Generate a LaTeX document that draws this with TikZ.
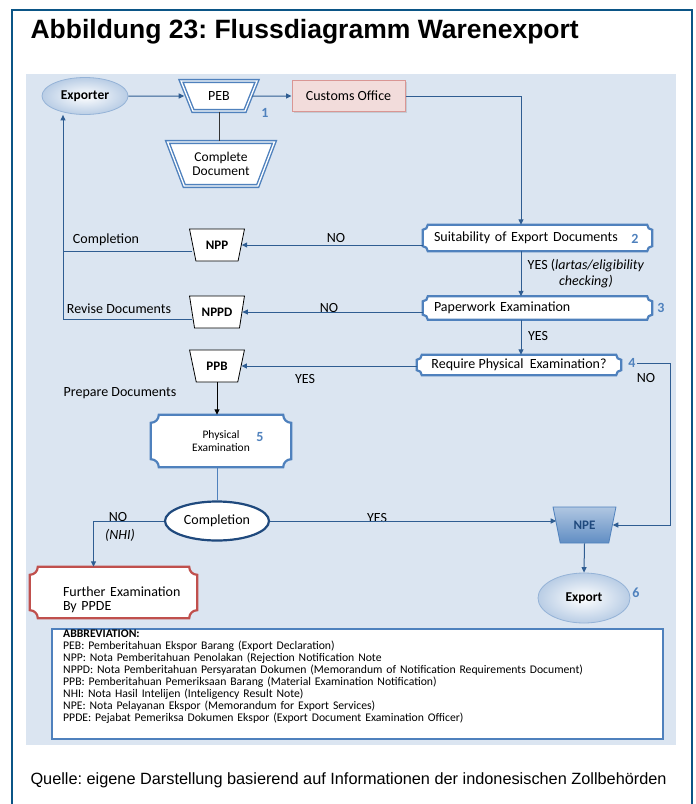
\documentclass[tikz,border=0pt]{standalone}
\usepackage{fontspec}
\setmainfont{Carlito}
\newfontfamily\arialfont{Liberation Sans}
\usetikzlibrary{shapes.geometric,arrows.meta,backgrounds,shadows}
\frenchspacing

\definecolor{frameblue}{HTML}{0B5586}
\definecolor{bgblue}{HTML}{DBE5F1}
\definecolor{lineblue}{HTML}{2F5D92}
\definecolor{accent}{HTML}{4F81BD}
\definecolor{pinkfill}{HTML}{F2DCDB}
\definecolor{pinkline}{HTML}{D99694}
\definecolor{redline}{HTML}{C0504D}
\definecolor{navy}{HTML}{1F497D}
\definecolor{paleblue}{HTML}{B9CDE5}

\tikzset{
  txt/.style={font=\fontsize{14}{16}\selectfont, inner sep=1pt},
  num/.style={font=\bfseries\fontsize{14}{16}\selectfont, text=accent, inner sep=1pt},
  conn/.style={draw=lineblue, line width=1pt},
  arr/.style={conn, -{Triangle[length=5.5pt,width=5pt]}},
  trap/.style={trapezium, shape border rotate=180, trapezium stretches=true, draw, fill=white,
    line width=0.8pt, inner sep=0pt, font=\bfseries\fontsize{13}{15}\selectfont},
  dtrap/.style={trap, draw=accent, line width=1.4pt, double=white, double distance=1.3pt,
    font=\fontsize{14}{15}\selectfont},
  plaque/.style={rectangle, inner sep=0pt, font=\fontsize{14}{16}\selectfont},
  oval/.style={ellipse, inner sep=0pt, draw=accent!60, line width=0.8pt, inner color=white,
    outer color=paleblue, font=\bfseries\fontsize{13.5}{15}\selectfont}
}

\newcommand{\plaqueframe}[3][]{%
  \begin{pgfonlayer}{background}
  \draw[#1] ([xshift=#3]#2.north west) -- ([xshift=-#3]#2.north east)
    arc[start angle=180, end angle=270, radius=#3] -- ([yshift=#3]#2.south east)
    arc[start angle=90, end angle=180, radius=#3] -- ([xshift=#3]#2.south west)
    arc[start angle=0, end angle=90, radius=#3] -- ([yshift=-#3]#2.north west)
    arc[start angle=270, end angle=360, radius=#3] -- cycle;
  \end{pgfonlayer}}

\begin{document}
\begin{tikzpicture}[x=1pt, y=-1pt]
\useasboundingbox (0,0) rectangle (696,804);
\begin{scope}[on background layer]
  \fill[bgblue] (26,74) rectangle (676,745);
\end{scope}
\draw[frameblue, line width=2.5pt] (12,804) -- (12,10) -- (692,10) -- (692,804);
\node[anchor=base west, font=\arialfont\bfseries\fontsize{26.5}{30}\selectfont] (title) at (27,38)
  {Abbildung 23: Flussdiagramm Warenexport};

\node[oval, minimum width=86pt, minimum height=37pt] (exporter) at (85,96) {Exporter};
\node[dtrap, trapezium angle=61, minimum width=76pt, minimum height=30pt] (peb) at (219,96) {PEB};
\node[txt, draw=pinkline, fill=pinkfill, line width=1pt, minimum width=113pt, minimum height=31pt,
  drop shadow={opacity=0.25, shadow xshift=1.5pt, shadow yshift=-1.5pt}] (customs) at (348.5,96) {Customs Office};
\node[dtrap, trapezium angle=61, minimum width=107pt, minimum height=44pt, align=center,
  font=\fontsize{13.5}{14}\selectfont] (doc) at (221,164) {Complete\\Document};

\node[plaque, text width=207pt, inner xsep=11pt, minimum height=26pt, align=left] (suit) at (537.5,238)
  {Suitability of Export Documents};
\plaqueframe[draw=accent, fill=white, line width=2.2pt]{suit}{5pt}
\node[plaque, text width=207pt, inner xsep=11pt, minimum height=23pt, align=left] (paper) at (537.5,308)
  {Paperwork Examination};
\plaqueframe[draw=accent, fill=white, line width=2.2pt]{paper}{5pt}
\node[plaque, minimum width=204pt, minimum height=20pt] (req) at (519,365)
  {Require Physical\ \ Examination?};
\plaqueframe[draw=accent, fill=white, line width=2.2pt]{req}{5pt}

\node[trap, trapezium angle=68, minimum width=55pt, minimum height=32pt] (npp) at (217,245) {NPP};
\node[trap, trapezium angle=68, minimum width=55pt, minimum height=32pt] (nppd) at (217,312) {NPPD};
\node[trap, trapezium angle=68, minimum width=55pt, minimum height=32pt] (ppb) at (217,366) {PPB};

\node[plaque, minimum width=140pt, minimum height=52pt, align=center, font=\fontsize{11.5}{13}\selectfont]
  (phys) at (221,441) {Physical\\Examination};
\plaqueframe[draw=accent, fill=white, line width=2.2pt]{phys}{8pt}
\node[ellipse, draw=navy, line width=2.2pt, fill=white, minimum width=104pt, minimum height=39pt, txt]
  (compl) at (217,521) {Completion};
\node[plaque, text width=101pt, inner xsep=33pt, minimum height=51pt, align=left, font=\fontsize{14}{14}\selectfont]
  (further) at (113.5,592.5) {\rule{0pt}{24pt}\mbox{Further Examination}\\By PPDE};
\plaqueframe[draw=redline, fill=white, line width=2.2pt]{further}{8pt}
\node[trap, trapezium angle=69, minimum width=63pt, minimum height=36pt, draw=accent, top color=accent!45,
  bottom color=accent!90, text=navy] (npe) at (584.5,525) {NPE};
\node[oval, minimum width=92pt, minimum height=50pt] (export) at (584,598) {Export};

\node[num] (num1) at (265,113) {1};
\node[num] (num2) at (635,239) {2};
\node[num] (num3) at (661,308) {3};
\node[num] (num4) at (632,363) {4};
\node[num] (num5) at (260,437) {5};
\node[num] (num6) at (636,593) {6};

\node[txt] (lcompl) at (106,240) {Completion};
\node[txt] (no1) at (336,238) {NO};
\node[txt] (lrevise) at (119,309) {Revise Documents};
\node[txt] (no2) at (329,308) {NO};
\node[txt, align=center] (yes1) at (586,274) {YES (\textit{lartas/eligibility}\\\textit{checking)}};
\node[txt] (yes2) at (538,336) {YES};
\node[txt] (yes3) at (305,379) {YES};
\node[txt] (no3) at (646,378) {NO};
\node[txt] (lprep) at (120,393) {Prepare Documents};
\node[txt] (no4) at (118,517) {NO};
\node[txt] (nhi) at (120,535) {\textit{(NHI)}};
\node[txt] (yes4) at (377,518) {YES};

\coordinate (spine) at (521,0);
\coordinate (back) at (63,0);
\coordinate (rside) at (670,0);
\draw[arr, shorten >=2pt] (exporter) -- (peb);
\draw[arr] (peb) -- (customs);
\draw[black!80, line width=1pt] (peb.south) -- (peb.south |- doc.north);
\draw[arr] (customs.east) -| (spine |- suit.north);
\draw[arr] (spine |- suit.south) -- (spine |- paper.north);
\draw[arr] (spine |- paper.south) -- (spine |- req.north);
\draw[arr] (suit.west |- npp.east) -- (npp.east);
\draw[arr] (paper.west |- nppd.east) -- (nppd.east);
\draw[arr] (req.west |- ppb.east) -- (ppb.east);
\draw[arr] ([yshift=-7pt]nppd.west) -| (back |- exporter.south);
\draw[conn] ([yshift=-6pt]npp.west) -- ([yshift=-6pt]npp.west -| back);
\draw[black, line width=1pt, -{Triangle[length=5.5pt,width=5pt]}] (ppb.south) -- (ppb.south |- phys.north);
\draw[conn, draw=accent] (compl.north |- phys.south) -- (compl.north);
\draw[arr] (compl.west) -| ([xshift=-20pt]further.north);
\draw[arr] (compl.east) -- (compl.east -| npe.west);
\draw[arr] (num4.east) -| (rside |- npe.east) -- (npe.east);
\draw[arr] (npe.south) -- (export.north);

\node[anchor=north west, draw=accent, line width=2pt, fill=white, minimum width=611pt, minimum height=110pt]
  (abbrevbox) at (51,628) {};
\node[anchor=north west, text width=595pt, inner sep=0pt, align=left, font=\fontsize{11.7}{11.9}\selectfont]
  (abbrev) at ([xshift=12pt, yshift=-2pt]abbrevbox.north west) {\textbf{ABBREVIATION:}\\
  PEB: Pemberitahuan Ekspor Barang (Export Declaration)\\
  NPP: Nota Pemberitahuan Penolakan (Rejection Notification Note\\
  NPPD: Nota Pemberitahuan Persyaratan Dokumen (Memorandum of Notification Requirements Document)\\
  PPB: Pemberitahuan Pemeriksaan Barang (Material Examination Notification)\\
  NHI: Nota Hasil Intelijen (Inteligency Result Note)\\
  NPE: Nota Pelayanan Ekspor (Memorandum for Export Services)\\
  PPDE: Pejabat Pemeriksa Dokumen Ekspor (Export Document Examination Officer)};

\node[anchor=base west, font=\arialfont\fontsize{16.3}{19}\selectfont] (source) at (27,784)
  {Quelle: eigene Darstellung basierend auf Informationen der indonesischen Zollbehörden};
\end{tikzpicture}
\end{document}
